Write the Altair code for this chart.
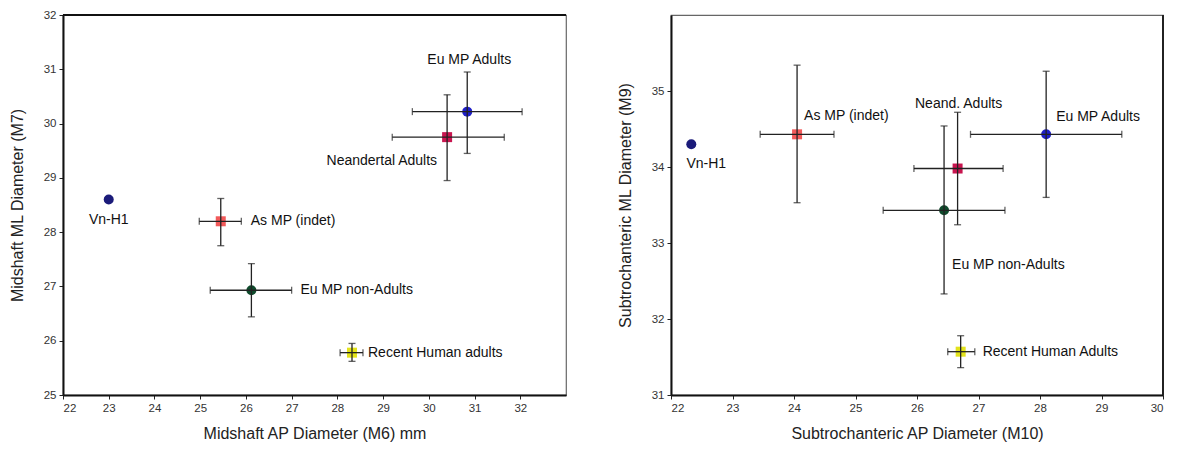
import altair as alt
import pandas as pd

# ---------------- data ----------------
groups = ["Vn-H1", "As MP (indet)", "Eu MP non-Adults", "Recent Human", "Eu MP Adults", "Neandertal"]
labels_left = ["Vn-H1", "As MP (indet)", "Eu MP non-Adults", "Recent Human adults", "Eu MP Adults", "Neandertal Adults"]
labels_right = ["Vn-H1", "As MP (indet)", "Eu MP non-Adults", "Recent Human Adults", "Eu MP Adults", "Neand. Adults"]

# left panel: midshaft
m6_mean = [23.00, 25.45, 26.12, 28.32, 30.84, 30.40]
m6_lo = [None, 24.98, 25.22, 28.06, 29.64, 29.20]
m6_hi = [None, 25.90, 27.00, 28.56, 32.04, 31.65]
m7_mean = [28.60, 28.20, 26.93, 25.78, 30.22, 29.75]
m7_lo = [None, 27.75, 26.44, 25.62, 29.45, 28.95]
m7_hi = [None, 28.62, 27.42, 25.95, 30.95, 30.53]

# right panel: subtrochanteric
m10_mean = [22.33, 24.05, 26.44, 26.71, 28.10, 26.66]
m10_lo = [None, 23.45, 25.45, 26.50, 26.87, 25.95]
m10_hi = [None, 24.65, 27.43, 26.94, 29.33, 27.40]
m9_mean = [34.30, 34.43, 33.43, 31.57, 34.43, 33.98]
m9_lo = [None, 33.53, 32.33, 31.36, 33.60, 33.24]
m9_hi = [None, 35.34, 34.54, 31.78, 35.26, 34.72]

# ---------------- styles ----------------
shapes = ["circle", "square", "circle", "square", "circle", "square"]
colors = ["#1b1b7a", "#f25a5a", "#0f4a2c", "#e3e31c", "#1f1fc8", "#c8154f"]
FONT = "Liberation Sans"

# label offsets (align, dx, dy) per group
off_left = {
    "Vn-H1": ("center", 0, 20),
    "As MP (indet)": ("left", 30, 0),
    "Eu MP non-Adults": ("left", 49, 0),
    "Recent Human": ("left", 16, 0),
    "Eu MP Adults": ("center", 2, -52),
    "Neandertal": ("right", -10, 24),
}
off_right = {
    "Vn-H1": ("center", 15, 20),
    "As MP (indet)": ("left", 7, -18),
    "Eu MP non-Adults": ("left", 8, 55),
    "Recent Human": ("left", 22, 0),
    "Eu MP Adults": ("left", 10, -17),
    "Neandertal": ("center", 1, -65),
}


def panel(xm, xl, xh, ym, yl, yh, labels, xdom, ydom, xticks, yticks, xtitle, ytitle, offs, w, h, border):
    df = pd.DataFrame({
        "group": groups, "label": labels,
        "x": xm, "xlo": xl, "xhi": xh, "y": ym, "ylo": yl, "yhi": yh,
    })
    xs = alt.Scale(domain=xdom, nice=False, zero=False)
    ys = alt.Scale(domain=ydom, nice=False, zero=False)
    xax = alt.Axis(values=xticks, title=xtitle, grid=False)
    yax = alt.Axis(values=yticks, title=ytitle, grid=False)
    base = alt.Chart(df)
    X = lambda f: alt.X(f"{f}:Q", scale=xs, axis=xax)
    Y = lambda f: alt.Y(f"{f}:Q", scale=ys, axis=yax)
    valid = "isValid(datum.xlo) && datum.xlo !== null"
    ecol = "#222222"
    hbar = base.transform_filter(valid).mark_rule(color=ecol, strokeWidth=1.3).encode(
        x=X("xlo"), x2="xhi:Q", y=Y("y"))
    vbar = base.transform_filter(valid).mark_rule(color=ecol, strokeWidth=1.3).encode(
        x=X("x"), y=Y("ylo"), y2="yhi:Q")
    caps = []
    for f in ["xlo", "xhi"]:
        caps.append(base.transform_filter(valid).mark_tick(
            orient="vertical", size=7, thickness=1.3, color=ecol).encode(x=X(f), y=Y("y")))
    for f in ["ylo", "yhi"]:
        caps.append(base.transform_filter(valid).mark_tick(
            orient="horizontal", size=7, thickness=1.3, color=ecol).encode(x=X("x"), y=Y(f)))
    pts = base.mark_point(filled=True, size=100, opacity=1).encode(
        x=X("x"), y=Y("y"),
        shape=alt.Shape("group:N", scale=alt.Scale(domain=groups, range=shapes), legend=None),
        color=alt.Color("group:N", scale=alt.Scale(domain=groups, range=colors), legend=None),
    )
    texts = []
    for g, (al, dx, dy) in offs.items():
        texts.append(base.transform_filter(alt.datum.group == g).mark_text(
            align=al, baseline="middle", dx=dx, dy=dy, font=FONT, fontSize=14, color="#111111"
        ).encode(x=X("x"), y=Y("y"), text="label:N"))
    if border == "top":
        edge = base.mark_rule(color="#111111", strokeWidth=2).encode(
            x=alt.value(0), x2=alt.value(w), y=alt.value(0))
    else:
        edge = base.mark_rule(color="#222222", strokeWidth=1.6).encode(
            x=alt.value(w), y=alt.value(0), y2=alt.value(h))
    return alt.layer(pts, hbar, vbar, *caps, *texts, edge).properties(width=w, height=h)


left = panel(m6_mean, m6_lo, m6_hi, m7_mean, m7_lo, m7_hi, labels_left,
             [22, 33], [25, 32], list(range(22, 33)), list(range(25, 33)),
             "Midshaft AP Diameter (M6) mm", "Midshaft ML Diameter (M7)", off_left, 503, 380, "top")
right = panel(m10_mean, m10_lo, m10_hi, m9_mean, m9_lo, m9_hi, labels_right,
              [22, 30], [31, 36], list(range(22, 31)), list(range(31, 36)),
              "Subtrochanteric AP Diameter (M10)", "Subtrochanteric ML Diameter (M9)", off_right, 492, 380, "right")

chart = alt.hconcat(left, right, spacing=48).properties(
    padding={"left": 0, "top": 0, "right": 0, "bottom": 0}
).configure_view(
    stroke="#666666", strokeWidth=1.2
).configure_axis(
    domainColor="#111111", domainWidth=2, tickColor="#222222", tickSize=4,
    labelFont=FONT, labelFontSize=11.5, labelColor="#333333", labelPadding=3,
    titleFont=FONT, titleFontSize=16, titleFontWeight="normal", titleColor="#222222",
).configure_axisY(titlePadding=18).configure_axisX(titlePadding=12)

chart.save("out.html", embed_options={"renderer": "svg", "actions": False})
